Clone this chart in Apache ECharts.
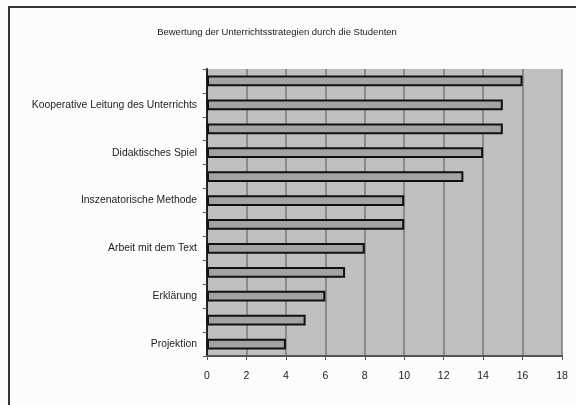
<!DOCTYPE html>
<html>
<head>
<meta charset="utf-8">
<style>
    html, body { margin: 0; padding: 0; background: #fcfcfc; }
    #chart { width: 576px; height: 405px; }
</style>
<script src="https://cdn.jsdelivr.net/npm/echarts@6/dist/echarts.min.js"></script>
</head>
<body>
<div id="chart"></div>
<script>
// Kategorien von unten nach oben; Zwischenkategorien sind im Original nicht beschriftet
var categories = [
    'Projektion', '', 'Erklärung', '', 'Arbeit mit dem Text', '',
    'Inszenatorische Methode', '', 'Didaktisches Spiel', '',
    'Kooperative Leitung des Unterrichts', ''
];
var values = [4, 5, 6, 7, 8, 10, 10, 13, 14, 15, 15, 16];
var xTicks = [0, 2, 4, 6, 8, 10, 12, 14, 16, 18];

var chart = echarts.init(document.getElementById('chart'));
var fontFamily = '"Liberation Sans", Arial, sans-serif';

var option = {
    animation: false,
    backgroundColor: '#fcfcfc',
    title: {
        text: 'Bewertung der Unterrichtsstrategien durch die Studenten',
        left: 272,
        textAlign: 'center',
        top: 22,
        textStyle: { fontFamily: fontFamily, fontSize: 9.5, fontWeight: 'normal', color: '#222' }
    },
    // Rahmen um das Diagramm (rechts und unten ausserhalb des Bildes)
    graphic: [{
        type: 'rect',
        shape: { x: 9, y: 7, width: 620, height: 460 },
        style: { fill: 'none', stroke: '#333', lineWidth: 2 },
        silent: true
    }],
    grid: {
        left: 207,
        top: 69,
        width: 355,
        height: 287,
        show: true,
        backgroundColor: '#c0c0c0',
        borderWidth: 0
    },
    xAxis: {
        type: 'value',
        min: xTicks[0],
        max: xTicks[xTicks.length - 1],
        interval: 2,
        axisLine: { show: true, lineStyle: { color: '#555', width: 2 } },
        axisTick: { show: true, length: 4, lineStyle: { color: '#555' } },
        axisLabel: { margin: 15, fontFamily: fontFamily, fontSize: 10.5, color: '#222' },
        splitLine: { show: true, lineStyle: { color: '#7a7a7a', width: 1.5 } }
    },
    yAxis: {
        type: 'category',
        data: categories,
        axisLine: { show: true, lineStyle: { color: '#222', width: 2 } },
        axisTick: { show: true, interval: 0, length: 4, lineStyle: { color: '#555' } },
        axisLabel: { interval: 1, margin: 10, fontFamily: fontFamily, fontSize: 10.4, color: '#222' },
        splitLine: { show: false }
    },
    series: [{
        type: 'bar',
        data: values,
        barWidth: '45%',
        itemStyle: { color: '#a3a3a3', borderColor: '#111', borderWidth: 2 }
    }]
};
chart.setOption(option);
</script>
</body>
</html>
